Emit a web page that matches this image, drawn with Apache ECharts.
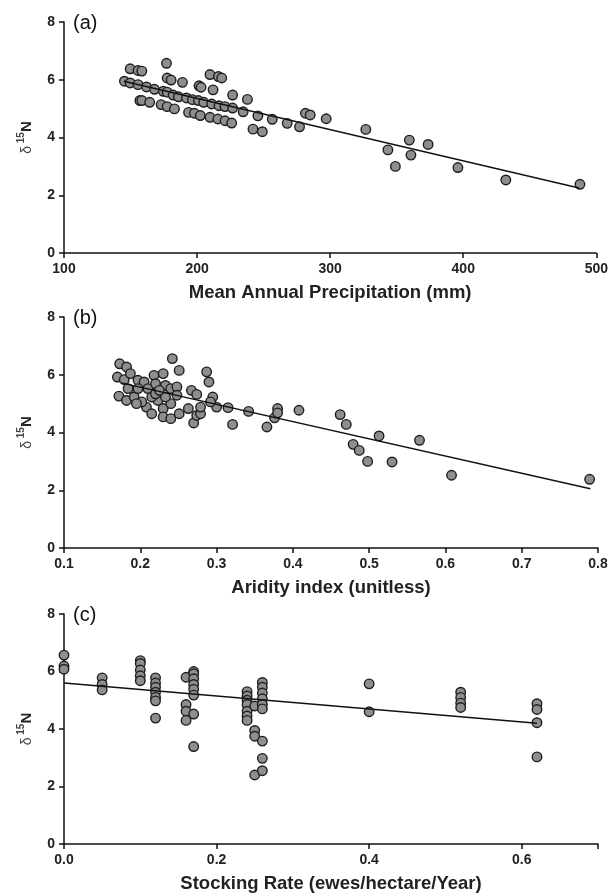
<!DOCTYPE html>
<html>
<head>
<meta charset="utf-8">
<script src="https://cdn.jsdelivr.net/npm/echarts@6/dist/echarts.min.js"></script>
<style>
  html, body { margin: 0; padding: 0; background: #fff; }
  #chart { width: 611px; height: 896px; }
</style>
</head>
<body>
<div id="chart"></div>
<script>
"use strict";

// (a) 降水量 vs d15N
var precipPts = [
  [149.7,6.38],[155.6,6.32],[158.5,6.30],[177,6.57],[177.5,6.06],[180.5,5.99],[189,5.91],
  [201.5,5.79],[203,5.74],[209.7,6.18],[212,5.65],[216,6.11],[218.5,6.06],[226.7,5.47],
  [237.8,5.32],[245.7,4.75],[256.5,4.63],[267.7,4.49],[242,4.29],[249,4.20],[277,4.37],
  [281.4,4.84],[285,4.78],[297,4.65],[326.8,4.28],[343.4,3.57],[349,3.00],[359.5,3.91],
  [360.7,3.39],[373.6,3.76],[396,2.96],[432,2.53],[487.7,2.38],
  [145.4,5.95],[149.7,5.89],[155.6,5.83],[162,5.75],[168,5.67],[174.6,5.60],[177.5,5.57],
  [182,5.47],[186,5.41],[192,5.37],[196.5,5.31],[201,5.28],[205,5.22],[211,5.16],
  [216.5,5.10],[221,5.07],[226.7,5.02],[234.6,4.89],
  [157,5.28],[158.5,5.28],[164.4,5.22],[173,5.14],[177.5,5.07],[183,4.99],[193.6,4.87],
  [198,4.84],[202.4,4.76],[209.7,4.70],[215.6,4.64],[221,4.58],[226,4.50]
];
var precipFit = [[145,5.95],[487,2.25]];

// (b) 干燥指数 vs d15N
var aridPts = [
  [0.30,4.88],[0.315,4.86],[0.321,4.28],[0.342,4.73],[0.366,4.19],[0.376,4.51],[0.38,4.83],
  [0.38,4.68],[0.408,4.77],[0.462,4.62],[0.47,4.28],[0.479,3.59],[0.487,3.38],[0.498,3.00],
  [0.513,3.88],[0.53,2.98],[0.566,3.73],[0.608,2.52],[0.789,2.38],
  [0.242,6.56],[0.251,6.15],[0.287,6.10],[0.29,5.75],[0.295,5.23],[0.267,5.46],[0.274,5.32],
  [0.263,4.83],[0.27,4.33],[0.274,4.59],[0.279,4.65],[0.279,4.88],[0.292,5.06],
  [0.173,6.38],[0.182,6.27],[0.17,5.92],[0.179,5.83],[0.187,6.04],[0.172,5.26],[0.182,5.11],
  [0.192,5.23],[0.184,5.52],[0.197,5.81],[0.205,5.75],[0.21,5.52],[0.218,5.98],[0.22,5.69],
  [0.23,6.04],[0.233,5.63],[0.24,5.52],[0.248,5.58],[0.248,5.29],[0.208,4.88],[0.215,4.65],
  [0.223,5.11],[0.23,4.83],[0.23,4.54],[0.24,4.48],[0.251,4.65],[0.215,5.23],[0.24,5.00],
  [0.202,5.06],[0.22,5.34],[0.197,5.52],[0.195,5.00],[0.233,5.23],[0.225,5.46]
];
var aridFit = [[0.175,5.72],[0.79,2.05]];

// (c) 载畜率 vs d15N
var stockX = [0, 0.05, 0.10, 0.12, 0.16, 0.17, 0.24, 0.25, 0.26, 0.40, 0.52, 0.62];
var stockY = [
  [6.57,6.19,6.08],
  [5.78,5.55,5.36],
  [6.38,6.28,6.05,5.85,5.68],
  [5.78,5.60,5.45,5.28,5.10,4.98,4.38],
  [5.80,4.85,4.62,4.30],
  [6.00,5.92,5.75,5.55,5.38,5.18,4.52,3.39],
  [5.30,5.15,5.00,4.85,4.62,4.45,4.30],
  [4.80,3.95,3.75,2.40],
  [5.62,5.45,5.25,5.05,4.85,4.70,3.58,2.98,2.55],
  [5.57,4.60],
  [5.28,5.10,4.90,4.75],
  [4.88,4.68,4.22,3.03]
];
var stockFit = [[0,5.6],[0.62,4.2]];

var yTicks = [0, 2, 4, 6, 8];

var stockPts = [];
for (var i = 0; i < stockX.length; i++) {
  for (var j = 0; j < stockY[i].length; j++) {
    stockPts.push([stockX[i], stockY[i][j]]);
  }
}

var FONT = '"Liberation Sans", Arial, sans-serif';
var NARROW = '"Liberation Sans Narrow", "Liberation Sans", Arial, sans-serif';

function makeX(idx, min, max, interval, name, digits) {
  return {
    gridIndex: idx, type: 'value', min: min, max: max, interval: interval,
    name: name, nameLocation: 'middle', nameGap: 30,
    nameTextStyle: { fontFamily: NARROW, fontWeight: 'bold', fontSize: 18.5, color: '#222' },
    axisLine: { show: true, onZero: false, lineStyle: { color: '#111', width: 1.5 } },
    axisTick: { show: true, length: 5, lineStyle: { color: '#111', width: 1.5 } },
    axisLabel: {
      margin: 9, fontFamily: FONT, fontWeight: 'bold', fontSize: 14, color: '#222',
      formatter: function (v) {
        if (digits == 1 && Math.abs(v / interval - Math.round(v / interval)) > 1e-6) return '';
        return digits ? v.toFixed(digits) : v;
      }
    },
    splitLine: { show: false }
  };
}

function makeY(idx) {
  return {
    gridIndex: idx, type: 'value', min: yTicks[0], max: yTicks[yTicks.length - 1], interval: 2,
    name: '{d|δ}{s| 15}{n|N}', nameLocation: 'middle', nameGap: 30, nameRotate: 90,
    nameTextStyle: {
      rich: {
        d: { fontFamily: FONT, fontSize: 14, color: '#444', lineHeight: 18, verticalAlign: 'bottom' },
        s: { fontFamily: FONT, fontSize: 10, fontWeight: 'bold', color: '#444', lineHeight: 18, verticalAlign: 'top' },
        n: { fontFamily: FONT, fontSize: 15, fontWeight: 'bold', color: '#222', lineHeight: 18, verticalAlign: 'bottom' }
      }
    },
    axisLine: { show: true, onZero: false, lineStyle: { color: '#111', width: 1.5 } },
    axisTick: { show: true, length: 5, lineStyle: { color: '#111', width: 1.5 } },
    axisLabel: { margin: 9, fontFamily: FONT, fontWeight: 'bold', fontSize: 14, color: '#222' },
    splitLine: { show: false }
  };
}

function scatter(idx, data) {
  return {
    type: 'scatter', xAxisIndex: idx, yAxisIndex: idx, data: data,
    symbol: 'circle', symbolSize: 9.5,
    itemStyle: { color: '#8e8e8e', borderColor: '#1e1e1e', borderWidth: 1.4, opacity: 1 },
    z: 3
  };
}

function fitLine(idx, data) {
  return {
    type: 'line', xAxisIndex: idx, yAxisIndex: idx, data: data,
    symbol: 'none', lineStyle: { color: '#111', width: 1.4 }, z: 4, silent: true
  };
}

var myChart = echarts.init(document.getElementById('chart'), null, { renderer: 'canvas' });
var option = {
  backgroundColor: '#fff',
  animation: false,
  title: [
    { text: '(a)', left: 68, top: 8, textStyle: { fontFamily: FONT, fontWeight: 'normal', fontSize: 20, color: '#111' } },
    { text: '(b)', left: 68, top: 303, textStyle: { fontFamily: FONT, fontWeight: 'normal', fontSize: 20, color: '#111' } },
    { text: '(c)', left: 68, top: 600, textStyle: { fontFamily: FONT, fontWeight: 'normal', fontSize: 20, color: '#111' } }
  ],
  grid: [
    { left: 64, top: 22, width: 534, height: 231 },
    { left: 64, top: 317, width: 534, height: 231 },
    { left: 64, top: 614, width: 534, height: 230 }
  ],
  xAxis: [
    makeX(0, 100, 500, 100, 'Mean Annual Precipitation (mm)', 0),
    makeX(1, 0.1, 0.8, 0.1, 'Aridity index (unitless)', 1),
    makeX(2, 0, 0.7, 0.2, 'Stocking Rate (ewes/hectare/Year)', 1)
  ],
  yAxis: [makeY(0), makeY(1), makeY(2)],
  series: [
    fitLine(0, precipFit), scatter(0, precipPts),
    fitLine(1, aridFit), scatter(1, aridPts),
    fitLine(2, stockFit), scatter(2, stockPts)
  ]
};
myChart.setOption(option, true);
</script>
</body>
</html>
